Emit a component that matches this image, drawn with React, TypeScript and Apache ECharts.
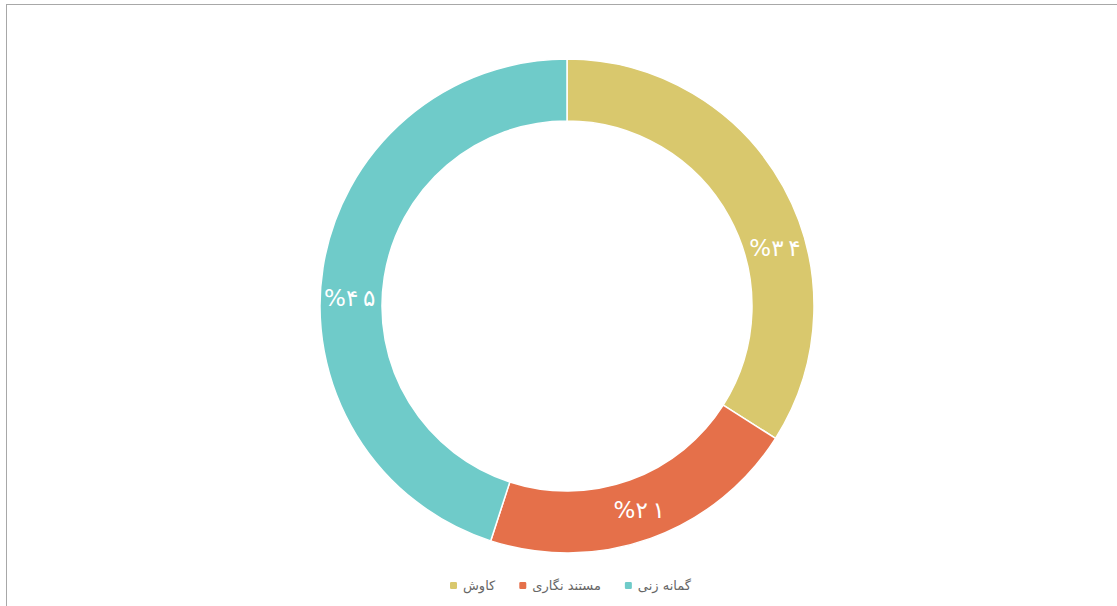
import React, { useEffect, useRef } from "react";
import * as echarts from "echarts";

const categories = ["کاوش", "مستند نگاری", "گمانه زنی"];
const values = [34, 21, 45];
const colors = ["#d9c86d", "#e5704a", "#6fcbc9"];
const labelOffsets: [number, number][] = [[16, 48], [-2, -2], [-1, 26]];

const toFa = (n: number) => String(n).replace(/\d/g, (d) => "۰۱۲۳۴۵۶۷۸۹"[Number(d)]);

export default function App() {
  const ref = useRef<HTMLDivElement>(null);
  useEffect(() => {
    if (!ref.current) return;
    const chart = echarts.init(ref.current, undefined, { renderer: "svg" });
    chart.setOption({
      animation: false,
      color: colors,
      legend: {
        top: 574,
        left: 443,
        itemWidth: 9,
        itemHeight: 9,
        itemGap: 22,
        icon: "roundRect",
        textStyle: { fontSize: 13, color: "#666", fontFamily: "DejaVu Sans, sans-serif" },
        data: categories,
      },
      series: [
        {
          type: "pie",
          center: [567, 306],
          radius: [185, 247],
          startAngle: 90,
          clockwise: true,
          avoidLabelOverlap: false,
          itemStyle: { borderColor: "#fff", borderWidth: 1.5 },
          label: {
            show: true,
            position: "inside",
            color: "#fff",
            fontSize: 23,
            fontFamily: "DejaVu Sans, sans-serif",
            formatter: (p: any) => "%" + toFa(p.value).split("").join("\u2009"),
          },
          labelLine: { show: false },
          emphasis: { disabled: true },
          data: categories.map((name, i) => ({
            name,
            value: values[i],
            label: { offset: labelOffsets[i] },
          })),
        },
      ],
    });
    return () => chart.dispose();
  }, []);
  return (
    <div style={{ position: "fixed", left: 0, top: 0, width: 1117, height: 606, overflow: "hidden", background: "#fff" }}>
      <div style={{ position: "absolute", left: 6, top: 4, width: 1300, height: 800, border: "1px solid #a8a8a8", boxSizing: "border-box" }} />
      <div ref={ref} style={{ position: "absolute", left: 0, top: 0, width: 1117, height: 606 }} />
    </div>
  );
}
